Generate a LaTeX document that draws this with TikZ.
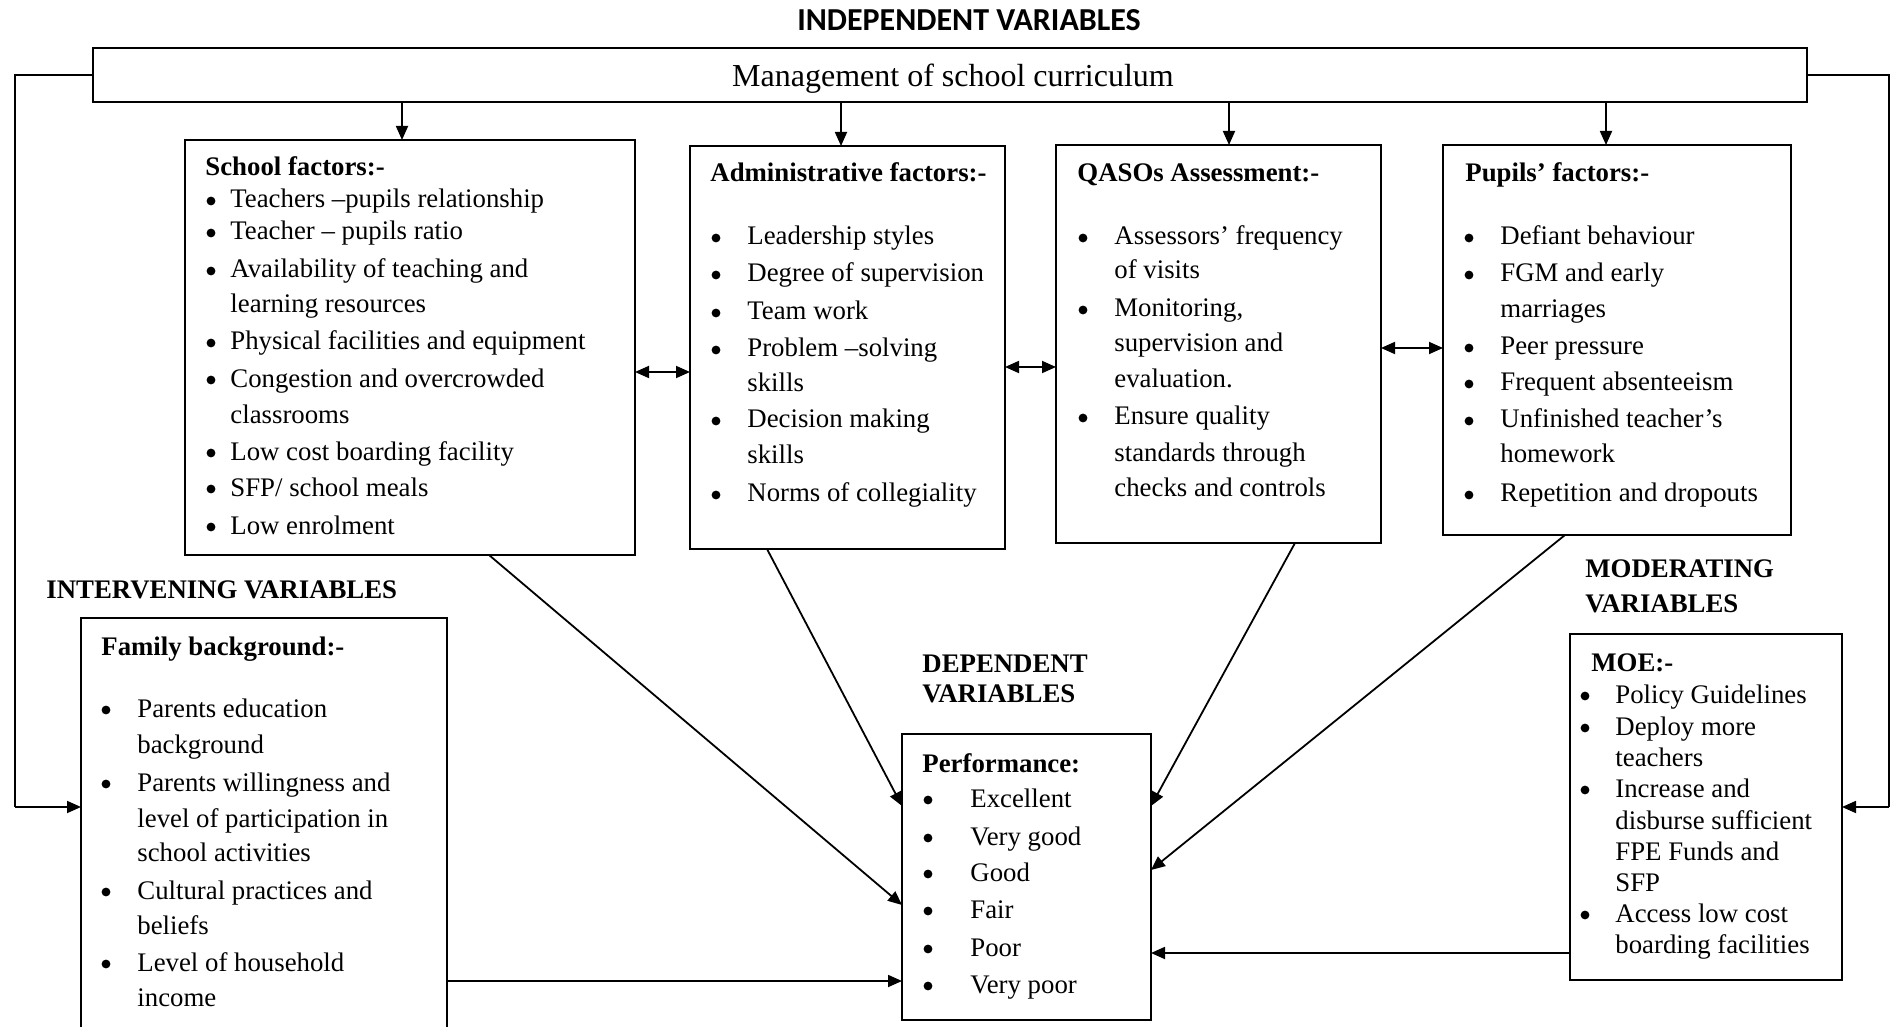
\documentclass[tikz,border=0pt]{standalone}
\usepackage{fontspec}
\setmainfont{Liberation Serif}
\newfontfamily\calib{Carlito}
\usetikzlibrary{arrows.meta,calc}
\tikzset{
  boxst/.style={draw, line width=1pt, inner sep=0pt, outer sep=0pt, anchor=north west},
  arr/.style={line width=0.9pt, -{Triangle[length=7pt,width=6pt]}},
  darr/.style={line width=0.9pt, {Triangle[length=7pt,width=6pt]}-{Triangle[length=7pt,width=6pt]}},
  fb/.style={line width=0.7pt},
  txt/.style={anchor=base west, inner sep=0pt, font=\fontsize{13.4}{16}\selectfont},
  ttl/.style={anchor=base west, inner sep=0pt, font=\fontsize{13.4}{16}\selectfont\bfseries},
  bul/.style={circle, fill, inner sep=0pt, minimum size=4.4pt},
}
\newcommand\BL[5]{\node[bul] (#1b) at (#2,#4-7) {}; \node[txt] (#1) at (#3,#4) {#5};}
\newcommand\CL[4]{\node[txt] (#1) at (#2,#3) {#4};}
\begin{document}
\begin{tikzpicture}[x=0.5pt,y=-0.5pt]
\useasboundingbox (0,0) rectangle (1892,1027);
\fill[white] (0,0) rectangle (1892,1027);

% headings
\node[anchor=base, inner sep=0pt, font=\calib\fontsize{16}{18}\selectfont\bfseries] (indep) at (969,31) {INDEPENDENT VARIABLES};
\node[ttl] (interv) at (46,598) {INTERVENING VARIABLES};
\node[ttl] (dep1) at (922,672) {DEPENDENT};
\node[ttl] (dep2) at (922,702) {VARIABLES};
\node[ttl] (mod1) at (1585,577) {MODERATING};
\node[ttl] (mod2) at (1585,612) {VARIABLES};

% boxes
\node[boxst, minimum width=857pt, minimum height=27pt] (top) at (93,48) {};
\node[anchor=base, inner sep=0pt, font=\fontsize{16}{18}\selectfont] (toptxt) at (953,87) {Management of school curriculum};
\node[boxst, minimum width=225pt, minimum height=207.5pt] (school) at (185,140) {};
\node[boxst, minimum width=157.5pt, minimum height=201.5pt] (admin) at (690,146) {};
\node[boxst, minimum width=162.5pt, minimum height=199pt] (qaso) at (1056,145) {};
\node[boxst, minimum width=174pt, minimum height=195pt] (pupil) at (1443,145) {};
\node[boxst, minimum width=183pt, minimum height=208.5pt] (family) at (81,618) {};
\node[boxst, minimum width=124.5pt, minimum height=143pt] (perf) at (902,734) {};
\node[boxst, minimum width=136pt, minimum height=173pt] (moe) at (1570,634) {};

% School factors
\node[ttl] (st) at (205,176) {School factors:-};
\BL{s1}{211}{230}{208}{Teachers –pupils relationship}
\BL{s2}{211}{230}{240}{Teacher – pupils ratio}
\BL{s3}{211}{230}{278}{Availability of teaching and}
\CL{s4}{230}{313}{learning resources}
\BL{s5}{211}{230}{350}{Physical facilities and equipment}
\BL{s6}{211}{230}{387}{Congestion and overcrowded}
\CL{s7}{230}{423}{classrooms}
\BL{s8}{211}{230}{460}{Low cost boarding facility}
\BL{s9}{211}{230}{496}{SFP/ school meals}
\BL{s10}{211}{230}{534}{Low enrolment}

% Administrative factors
\node[ttl] (at) at (710,182) {Administrative factors:-};
\BL{a1}{716}{747}{245}{Leadership styles}
\BL{a2}{716}{747}{282}{Degree of supervision}
\BL{a3}{716}{747}{320}{Team work}
\BL{a4}{716}{747}{357}{Problem –solving}
\CL{a5}{747}{392}{skills}
\BL{a6}{716}{747}{428}{Decision making}
\CL{a7}{747}{464}{skills}
\BL{a8}{716}{747}{502}{Norms of collegiality}

% QASOs
\node[ttl] (qt) at (1077,182) {QASOs Assessment:-};
\BL{q1}{1083}{1114}{245}{Assessors’ frequency}
\CL{q2}{1114}{279}{of visits}
\BL{q3}{1083}{1114}{317}{Monitoring,}
\CL{q4}{1114}{352}{supervision and}
\CL{q5}{1114}{387}{evaluation.}
\BL{q6}{1083}{1114}{425}{Ensure quality}
\CL{q7}{1114}{461}{standards through}
\CL{q8}{1114}{496}{checks and controls}

% Pupils
\node[ttl] (pt) at (1465,182) {Pupils’ factors:-};
\BL{p1}{1469}{1500}{245}{Defiant behaviour}
\BL{p2}{1469}{1500}{282}{FGM and early}
\CL{p3}{1500}{318}{marriages}
\BL{p4}{1469}{1500}{355}{Peer pressure}
\BL{p5}{1469}{1500}{391}{Frequent absenteeism}
\BL{p6}{1469}{1500}{428}{Unfinished teacher’s}
\CL{p7}{1500}{463}{homework}
\BL{p8}{1469}{1500}{502}{Repetition and dropouts}

% Family
\node[ttl] (ft) at (101,655) {Family background:-};
\BL{f1}{106}{137}{717}{Parents education}
\CL{f2}{137}{753}{background}
\BL{f3}{106}{137}{791}{Parents willingness and}
\CL{f4}{137}{827}{level of participation in}
\CL{f5}{137}{861}{school activities}
\BL{f6}{106}{137}{899}{Cultural practices and}
\CL{f7}{137}{934}{beliefs}
\BL{f8}{106}{137}{971}{Level of household}
\CL{f9}{137}{1006}{income}

% Performance
\node[ttl] (prt) at (922,772) {Performance:};
\BL{r1}{928}{970}{807}{Excellent}
\BL{r2}{928}{970}{845}{Very good}
\BL{r3}{928}{970}{881}{Good}
\BL{r4}{928}{970}{918}{Fair}
\BL{r5}{928}{970}{956}{Poor}
\BL{r6}{928}{970}{993}{Very poor}

% MOE
\node[ttl] (mt) at (1591,671) {MOE:-};
\BL{m1}{1585}{1615}{703}{Policy Guidelines}
\BL{m2}{1585}{1615}{735}{Deploy more}
\CL{m3}{1615}{766}{teachers}
\BL{m4}{1585}{1615}{797}{Increase and}
\CL{m5}{1615}{829}{disburse sufficient}
\CL{m6}{1615}{860}{FPE Funds and}
\CL{m7}{1615}{891}{SFP}
\BL{m8}{1585}{1615}{922}{Access low cost}
\CL{m9}{1615}{953}{boarding facilities}

% helper coordinates
\coordinate (c1) at (402,0);
\coordinate (c2) at (841,0);
\coordinate (c3) at (1229,0);
\coordinate (c4) at (1606,0);
\coordinate (d1) at (489,905);
\coordinate (d2) at (767,806);
\coordinate (d3) at (1295,806);
\coordinate (d4) at (1565,870);
\coordinate (hm) at (0,953);
\coordinate (hf) at (0,981);
\coordinate (e1) at (0,372);
\coordinate (e2) at (0,367);
\coordinate (e3) at (0,348);
\coordinate (lf) at (15,807);
\coordinate (rf) at (1889,807);

% top arrows
\draw[arr] (top.south -| c1) -- (school.north -| c1);
\draw[arr] (top.south -| c2) -- (admin.north -| c2);
\draw[arr] (top.south -| c3) -- (qaso.north -| c3);
\draw[arr] (top.south -| c4) -- (pupil.north -| c4);

% double arrows
\draw[darr] (school.east |- e1) -- (admin.west |- e1);
\draw[darr] (admin.east |- e2) -- (qaso.west |- e2);
\draw[darr] (qaso.east |- e3) -- (pupil.west |- e3);

% into performance
\draw[arr] (school.south -| d1) -- (perf.west |- d1);
\draw[arr] (admin.south -| d2) -- (perf.west |- d2);
\draw[arr] (qaso.south -| d3) -- (perf.east |- d3);
\draw[arr] (pupil.south -| d4) -- (perf.east |- d4);
\draw[arr] (moe.west |- hm) -- (perf.east |- hm);
\draw[arr] (family.east |- hf) -- (perf.west |- hf);

% feedback lines
\draw[fb] (top.west) -| (lf);
\draw[arr] (lf) -- (family.west |- lf);
\draw[fb] (top.east) -| (rf);
\draw[arr] (rf) -- (moe.east |- rf);
\end{tikzpicture}
\end{document}
